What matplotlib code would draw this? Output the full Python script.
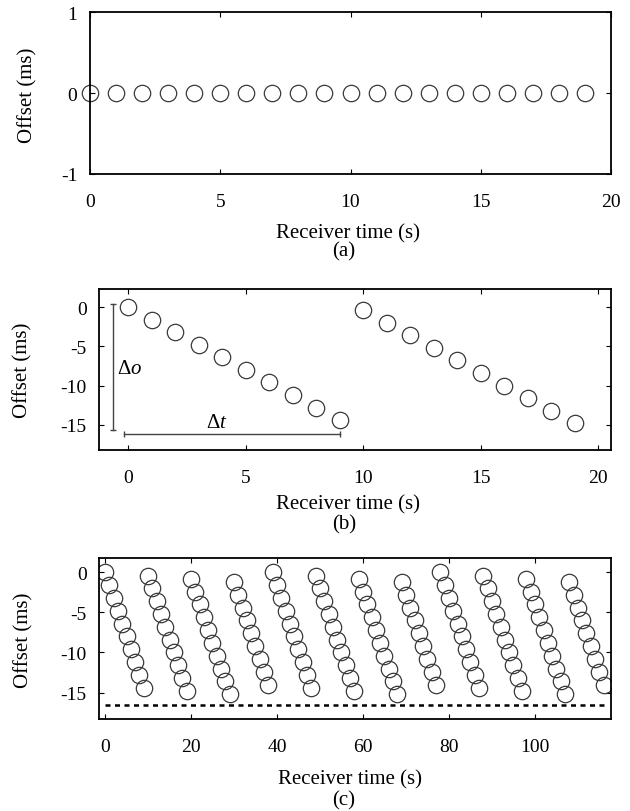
import matplotlib
matplotlib.use("Agg")
import matplotlib.pyplot as plt

# ---------------- data ----------------
# panel (a): perfectly synchronised clock
a_times = [0, 1, 2, 3, 4, 5, 6, 7, 8, 9, 10, 11, 12, 13, 14, 15, 16, 17, 18, 19]
a_offsets = [0, 0, 0, 0, 0, 0, 0, 0, 0, 0, 0, 0, 0, 0, 0, 0, 0, 0, 0, 0]

# panel (b): drifting clock, corrected once
b_times = [0, 1, 2, 3, 4, 5, 6, 7, 8, 9, 10, 11, 12, 13, 14, 15, 16, 17, 18, 19]
b_offsets = [0.0, -1.6, -3.2, -4.8, -6.4, -8.0, -9.6, -11.2, -12.8, -14.4,
             -0.4, -2.0, -3.6, -5.2, -6.8, -8.4, -10.0, -11.6, -13.2, -14.8]

# panel (c): long run with repeated corrections
c_times = [0, 1, 2, 3, 4, 5, 6, 7, 8, 9,
           10, 11, 12, 13, 14, 15, 16, 17, 18, 19,
           20, 21, 22, 23, 24, 25, 26, 27, 28, 29,
           30, 31, 32, 33, 34, 35, 36, 37, 38,
           39, 40, 41, 42, 43, 44, 45, 46, 47, 48,
           49, 50, 51, 52, 53, 54, 55, 56, 57, 58,
           59, 60, 61, 62, 63, 64, 65, 66, 67, 68,
           69, 70, 71, 72, 73, 74, 75, 76, 77,
           78, 79, 80, 81, 82, 83, 84, 85, 86, 87,
           88, 89, 90, 91, 92, 93, 94, 95, 96, 97,
           98, 99, 100, 101, 102, 103, 104, 105, 106, 107,
           108, 109, 110, 111, 112, 113, 114, 115, 116]
c_offsets = [0.0, -1.6, -3.2, -4.8, -6.4, -8.0, -9.6, -11.2, -12.8, -14.4,
             -0.4, -2.0, -3.6, -5.2, -6.8, -8.4, -10.0, -11.6, -13.2, -14.8,
             -0.8, -2.4, -4.0, -5.6, -7.2, -8.8, -10.4, -12.0, -13.6, -15.2,
             -1.2, -2.8, -4.4, -6.0, -7.6, -9.2, -10.8, -12.4, -14.0,
             0.0, -1.6, -3.2, -4.8, -6.4, -8.0, -9.6, -11.2, -12.8, -14.4,
             -0.4, -2.0, -3.6, -5.2, -6.8, -8.4, -10.0, -11.6, -13.2, -14.8,
             -0.8, -2.4, -4.0, -5.6, -7.2, -8.8, -10.4, -12.0, -13.6, -15.2,
             -1.2, -2.8, -4.4, -6.0, -7.6, -9.2, -10.8, -12.4, -14.0,
             0.0, -1.6, -3.2, -4.8, -6.4, -8.0, -9.6, -11.2, -12.8, -14.4,
             -0.4, -2.0, -3.6, -5.2, -6.8, -8.4, -10.0, -11.6, -13.2, -14.8,
             -0.8, -2.4, -4.0, -5.6, -7.2, -8.8, -10.4, -12.0, -13.6, -15.2,
             -1.2, -2.8, -4.4, -6.0, -7.6, -9.2, -10.8, -12.4, -14.0]
c_threshold = -16.55

a_xticks = [0, 5, 10, 15, 20]
a_yticks = [-1, 0, 1]
b_xticks = [0, 5, 10, 15, 20]
b_yticks = [0, -5, -10, -15]
c_xticks = [0, 20, 40, 60, 80, 100]
c_yticks = [0, -5, -10, -15]

xlabel_text = "Receiver time (s)"
ylabel_text = "Offset (ms)"
panel_tags = ["(a)", "(b)", "(c)"]

# ---------------- style ----------------
plt.rcParams.update({
    "font.family": ["Liberation Serif", "DejaVu Serif"],
    "mathtext.fontset": "custom",
    "mathtext.rm": "Liberation Serif",
    "mathtext.it": "Liberation Serif:italic",
    "axes.unicode_minus": False,
    "xtick.direction": "in",
    "ytick.direction": "in",
    "xtick.top": True,
    "ytick.right": True,
    "xtick.major.size": 3.5,
    "ytick.major.size": 3.5,
    "xtick.major.width": 0.8,
    "ytick.major.width": 0.8,
    "xtick.major.pad": 14,
    "ytick.major.pad": 9,
    "xtick.labelsize": 14,
    "ytick.labelsize": 14,
    "axes.linewidth": 1.3,
})

W, H = 630, 812
fig = plt.figure(figsize=(W / 100, H / 100), dpi=100)


def add_axes(l, t, r, b):
    return fig.add_axes([l / W, 1 - b / H, (r - l) / W, (b - t) / H])


def ftext(x, y, s, **kw):
    fig.text(x / W, 1 - y / H, s, **kw)


mk = dict(ls="none", marker="o", ms=11.8, mfc="none", mec="#3a3a3a", mew=0.9)
lab_fs = 15

# ---------------- panel (a) ----------------
ax1 = add_axes(90, 13.3, 611, 175)
ax1.plot(a_times, a_offsets, clip_on=False, **mk)
ax1.set_xlim(0, 20)
ax1.set_ylim(-1, 1)
ax1.set_xticks(a_xticks)
ax1.set_yticks(a_yticks)

# ---------------- panel (b) ----------------
ax2 = add_axes(99, 290, 611, 451)
ax2.plot(b_times, b_offsets, **mk)
ax2.set_xlim(-1.25, 20.55)
ax2.set_ylim(-18.2, 2.3)
ax2.set_xticks(b_xticks)
ax2.set_yticks(b_yticks)
ann = dict(color="#444444", lw=1.0, mew=1.0, ms=5)
ax2.plot([-0.66, -0.66], [0.33, -15.6], marker="_", **ann)
ax2.plot([-0.2, b_times[9]], [-16.2, -16.2], marker="|", **ann)
ax2.text(-0.49, -7.86, r"$\Delta o$", fontsize=lab_fs, ha="left", va="center")
ax2.text(3.76, -14.75, r"$\Delta t$", fontsize=lab_fs, ha="center", va="center")

# ---------------- panel (c) ----------------
ax3 = add_axes(99, 559.3, 611, 720)
ax3.plot(c_times, c_offsets, **mk)
ax3.hlines(c_threshold, c_times[0], c_times[-1] + 0.5, colors="black",
           lw=1.8, linestyles=(0, (2.0, 1.8)))
ax3.set_xlim(-1.4, 117.7)
ax3.set_ylim(-18.3, 1.75)
ax3.set_xticks(c_xticks)
ax3.set_yticks(c_yticks)

# ---------------- labels ----------------
ylab_pos = [(27.7, 95), (22.7, 370.8), (23.3, 640)]
xlab_pos = [(348, 234), (348, 505), (350, 780)]
tag_pos = [(344, 252), (344, 525), (344, 801)]
for (yx, yy), (xx, xy), (tx, ty), tag in zip(ylab_pos, xlab_pos, tag_pos, panel_tags):
    ftext(yx, yy, ylabel_text, rotation=90, ha="center", va="center", fontsize=lab_fs)
    ftext(xx, xy, xlabel_text, ha="center", va="center", fontsize=lab_fs)
    ftext(tx, ty, tag, ha="center", va="center", fontsize=lab_fs)

fig.savefig("out.png", dpi=100)
